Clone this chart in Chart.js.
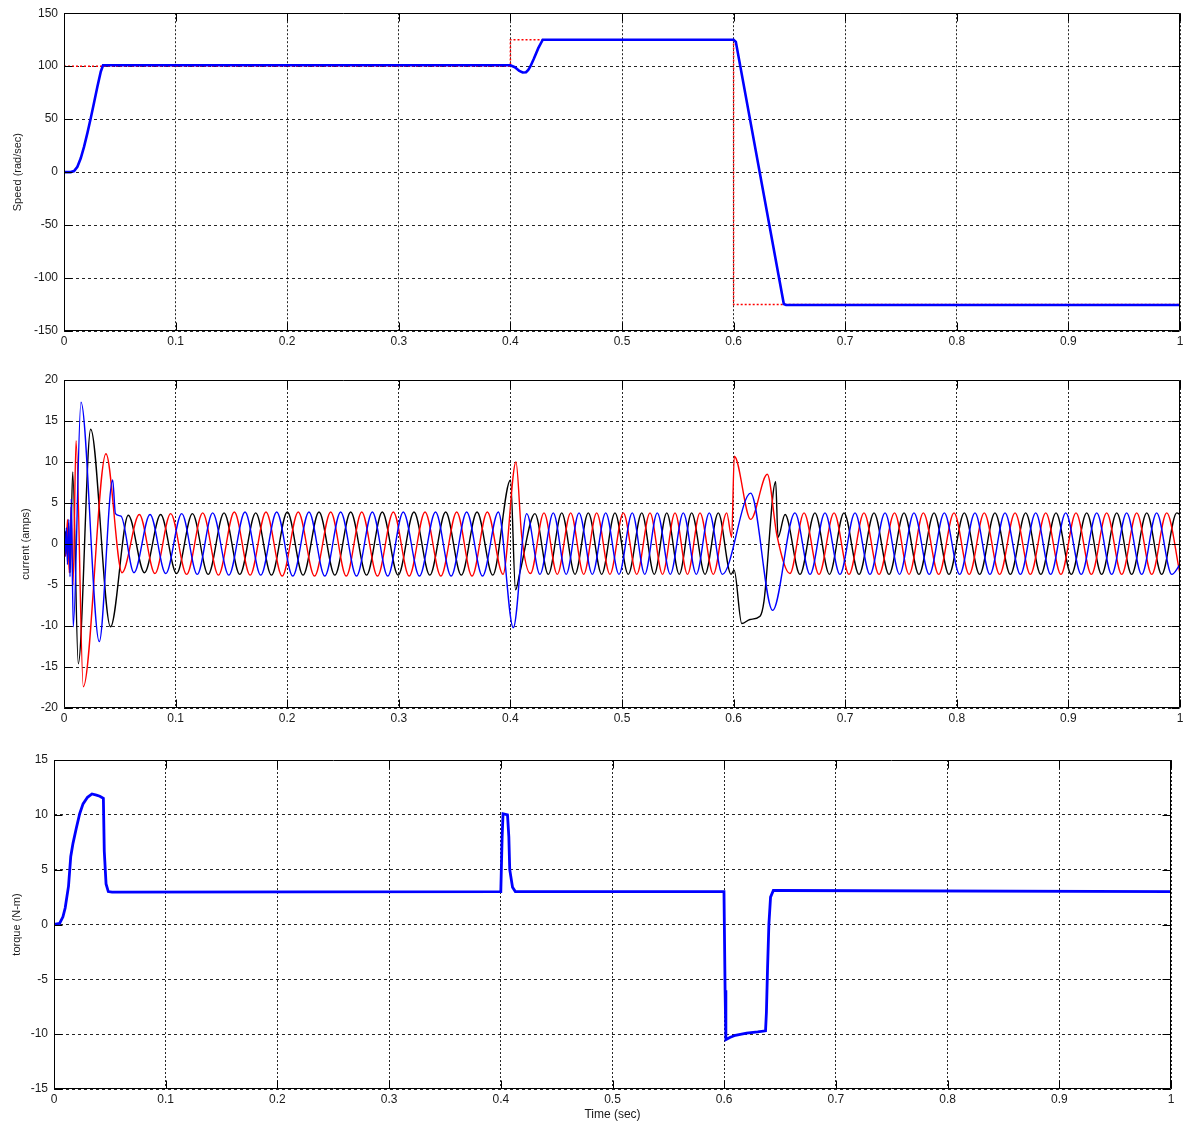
<!DOCTYPE html>
<html>
<head>
<meta charset="utf-8">
<script src="https://cdn.jsdelivr.net/npm/chart.js@4.4.1/dist/chart.umd.min.js"></script>
<style>
    html, body { margin: 0; padding: 0; background: #fff; }
    canvas { position: absolute; left: 0; }
</style>
</head>
<body>
<canvas id="speedChart" width="1190" height="360" style="top:0px"></canvas>
<canvas id="currentChart" width="1190" height="380" style="top:360px"></canvas>
<canvas id="torqueChart" width="1190" height="383" style="top:740px"></canvas>
<script>
// speed plot: reference (red dotted) and measured speed (blue)
const refT = [0, 0.4, 0.4, 0.6, 0.6, 1.0];
const refW = [100, 100, 125, 125, -125, -125];

const speedT = [0, 0.006, 0.009, 0.012, 0.015, 0.018, 0.021, 0.024, 0.027, 0.030,
    0.033, 0.035, 0.400, 0.404, 0.408, 0.411, 0.414, 0.416, 0.418, 0.421,
    0.425, 0.429, 0.600, 0.602, 0.645, 0.647, 1.0];
const speedW = [0, 0, 1, 5, 13, 24, 37, 51, 66, 81,
    95, 100.8, 100.8, 99, 95.5, 94, 94.3, 96.5, 100, 107,
    117, 125, 125, 123, -124.5, -125.4, -125.4];

// stator currents, peaks and troughs (phase a black, b red, c blue)
const blackT = [0, 0.0013, 0.0027, 0.0040, 0.0054, 0.0078, 0.0128, 0.0239, 0.0417, 0.0576,
    0.0721, 0.0866, 0.1009, 0.1151, 0.1292, 0.1434, 0.1575, 0.1718, 0.1859, 0.2001,
    0.2142, 0.2285, 0.2427, 0.2569, 0.2711, 0.2852, 0.2994, 0.3136, 0.3278, 0.3420,
    0.3560, 0.3701, 0.3842, 0.4001, 0.4046, 0.4086, 0.4220, 0.4340, 0.4460, 0.4579,
    0.4698, 0.4818, 0.4937, 0.5056, 0.5177, 0.5289, 0.5401, 0.5513, 0.5624, 0.5744,
    0.5863, 0.5977, 0.6005, 0.6073, 0.6147, 0.6237, 0.6272, 0.6377, 0.6398, 0.6461,
    0.6595, 0.6729, 0.6859, 0.6989, 0.7124, 0.7258, 0.7393, 0.7527, 0.7661, 0.7796,
    0.7930, 0.8067, 0.8205, 0.8342, 0.8480, 0.8617, 0.8753, 0.8889, 0.9026, 0.9164,
    0.9298, 0.9433, 0.9567, 0.9702, 0.9836, 0.9971, 1.0];
const blackI = [0, 1.5, -1.2, 2.5, -3.5, 8.8, -14.6, 14.0, -10.1, 3.5,
    -3.5, 3.6, -3.6, 3.7, -3.7, 3.8, -3.7, 3.8, -3.8, 3.9,
    -3.8, 3.9, -3.8, 3.9, -3.8, 3.9, -3.8, 3.9, -3.8, 3.9,
    -3.8, 3.9, -3.8, 7.8, -5.6, -3.4, 3.7, -3.7, 3.8, -3.7,
    3.8, -3.7, 3.8, -3.7, 3.8, -3.7, 3.8, -3.7, 3.8, -3.7,
    3.8, -3.7, -3.2, -9.7, -9.2, -8.8, -7.0, 7.6, 0.8, 3.6,
    -3.7, 3.8, -3.7, 3.8, -3.7, 3.8, -3.7, 3.8, -3.7, 3.8,
    -3.7, 3.8, -3.7, 3.8, -3.7, 3.8, -3.7, 3.8, -3.7, 3.8,
    -3.7, 3.8, -3.7, 3.8, -3.7, 3.8, 3.6];

const redT = [0, 0.0016, 0.0031, 0.0047, 0.0063, 0.0081, 0.0108, 0.0173, 0.0376, 0.0520,
    0.0675, 0.0815, 0.0956, 0.1099, 0.1243, 0.1384, 0.1526, 0.1668, 0.1810, 0.1955,
    0.2099, 0.2245, 0.2390, 0.2529, 0.2668, 0.2809, 0.2951, 0.3093, 0.3235, 0.3377,
    0.3519, 0.3656, 0.3793, 0.3934, 0.4050, 0.4101, 0.4180, 0.4301, 0.4420, 0.4540,
    0.4657, 0.4773, 0.4892, 0.5012, 0.5132, 0.5251, 0.5363, 0.5475, 0.5587, 0.5699,
    0.5818, 0.5938, 0.5983, 0.6006, 0.6153, 0.6302, 0.6389, 0.6505, 0.6631, 0.6765,
    0.6900, 0.7034, 0.7168, 0.7303, 0.7442, 0.7572, 0.7700, 0.7838, 0.7975, 0.8111,
    0.8246, 0.8384, 0.8522, 0.8659, 0.8797, 0.8933, 0.9068, 0.9206, 0.9343, 0.9478,
    0.9612, 0.9747, 0.9881, 1.0];
const redI = [0, -1.5, 3, -3.5, 4.5, -5, 12.6, -17.4, 11.0, -3.5,
    3.6, -3.6, 3.7, -3.7, 3.8, -3.8, 3.9, -3.8, 3.9, -3.9,
    3.9, -3.9, 3.9, -3.9, 3.9, -3.9, 3.9, -3.9, 3.9, -3.9,
    3.9, -3.9, 3.9, -3.7, 10.0, 1.0, -3.6, 3.8, -3.7, 3.8,
    -3.7, 3.8, -3.7, 3.8, -3.7, 3.8, -3.7, 3.8, -3.7, 3.8,
    -3.7, 3.8, 0.8, 10.7, 3.0, 8.5, 1.0, -3.6, 3.8, -3.7,
    3.8, -3.7, 3.8, -3.7, 3.8, -3.7, 3.8, -3.7, 3.8, -3.7,
    3.8, -3.7, 3.8, -3.7, 3.8, -3.7, 3.8, -3.7, 3.8, -3.7,
    3.8, -3.7, 3.8, -3.6];

const blueT = [0, 0.0009, 0.0021, 0.0031, 0.0043, 0.0054, 0.0065, 0.0083, 0.0152, 0.0316,
    0.0436, 0.0461, 0.0511, 0.0627, 0.0771, 0.0912, 0.1055, 0.1194, 0.1332, 0.1477,
    0.1622, 0.1763, 0.1906, 0.2050, 0.2195, 0.2337, 0.2479, 0.2621, 0.2763, 0.2901,
    0.3040, 0.3185, 0.3329, 0.3469, 0.3608, 0.3750, 0.3892, 0.4026, 0.4146, 0.4265,
    0.4384, 0.4500, 0.4615, 0.4734, 0.4854, 0.4973, 0.5092, 0.5204, 0.5316, 0.5433,
    0.5549, 0.5666, 0.5782, 0.5899, 0.6153, 0.6350, 0.6550, 0.6685, 0.6819, 0.6953,
    0.7088, 0.7222, 0.7357, 0.7487, 0.7616, 0.7753, 0.7888, 0.8026, 0.8163, 0.8297,
    0.8432, 0.8570, 0.8707, 0.8841, 0.8976, 0.9115, 0.9254, 0.9388, 0.9522, 0.9657,
    0.9791, 0.9926, 1.0];
const blueI = [0, -1.5, 2, -2.5, 3, -4, 5.5, -10.1, 17.3, -11.9,
    7.8, 3.7, 3.4, -3.5, 3.6, -3.6, 3.7, -3.7, 3.8, -3.8,
    3.9, -3.8, 3.9, -3.9, 3.9, -3.9, 3.9, -3.9, 3.9, -3.9,
    3.9, -3.9, 3.9, -3.9, 3.9, -3.9, 3.9, -10.2, 3.7, -3.7,
    3.8, -3.7, 3.8, -3.7, 3.8, -3.7, 3.8, -3.7, 3.8, -3.7,
    3.8, -3.7, 3.8, -3.7, 6.2, -8.1, 3.8, -3.7, 3.8, -3.7,
    3.8, -3.7, 3.8, -3.7, 3.8, -3.7, 3.8, -3.7, 3.8, -3.7,
    3.8, -3.7, 3.8, -3.7, 3.8, -3.7, 3.8, -3.7, 3.8, -3.7,
    3.8, -3.7, -2.5];

// electromagnetic torque
const torqueT = [0, 0.005, 0.008, 0.010, 0.013, 0.015, 0.017, 0.020, 0.023, 0.026,
    0.030, 0.034, 0.038, 0.041, 0.0442, 0.0450, 0.0466, 0.0486, 0.052, 0.40,
    0.4012, 0.402, 0.406, 0.4072, 0.408, 0.4105, 0.413, 0.5998, 0.6008, 0.6015,
    0.605, 0.610, 0.620, 0.630, 0.637, 0.6378, 0.6388, 0.6400, 0.6415, 0.644,
    0.650, 1.0];
const torqueN = [0, 0.1, 0.7, 1.5, 3.5, 6.2, 7.4, 8.8, 10.1, 11.0,
    11.6, 11.9, 11.8, 11.7, 11.5, 6.7, 3.7, 3.0, 2.95, 3.0,
    8, 10.1, 10.0, 8, 5, 3.4, 3.0, 3.0, -6, -10.5,
    -10.3, -10.1, -9.9, -9.8, -9.7, -8, -4, 0, 2.5, 3.1,
    3.1, 3.0];

const timeTicks = [0, 0.1, 0.2, 0.3, 0.4, 0.5, 0.6, 0.7, 0.8, 0.9, 1];

const FONT = "'Liberation Sans', Arial, sans-serif";
const pts = (ts, vs) => ts.map((t, i) => ({x: t, y: vs[i]}));

// matlab style box with inward ticks
const framePlugin = {
    id: 'frame',
    afterDatasetsDraw(chart) {
        const {ctx, chartArea: a, scales: {x, y}} = chart;
        const L = Math.round(a.left) + 0.5, R = Math.round(a.right) - 0.5;
        const T = Math.round(a.top) + 0.5, B = Math.round(a.bottom) - 0.5;
        ctx.save();
        ctx.setLineDash([]);
        ctx.strokeStyle = '#000';
        ctx.lineWidth = 1;
        ctx.beginPath();
        ctx.rect(L, T, R - L, B - T);
        x.ticks.forEach(t => {
            const p = Math.round(x.getPixelForValue(t.value)) + 0.5;
            ctx.moveTo(p, B); ctx.lineTo(p, B - 8);
            ctx.moveTo(p, T); ctx.lineTo(p, T + 8);
        });
        y.ticks.forEach(t => {
            const p = Math.round(y.getPixelForValue(t.value)) + 0.5;
            ctx.moveTo(L, p); ctx.lineTo(L + 8, p);
            ctx.moveTo(R, p); ctx.lineTo(R - 8, p);
        });
        ctx.stroke();
        ctx.restore();
    }
};

function makePlot(id, datasets, o) {
    return new Chart(document.getElementById(id), {
        type: 'line',
        data: {datasets: datasets},
        plugins: [framePlugin],
        options: {
            responsive: false,
            animation: false,
            devicePixelRatio: 1,
            layout: {padding: {top: o.padTop, right: o.padRight, left: 0, bottom: 0}},
            elements: {point: {radius: 0}},
            plugins: {legend: {display: false}, tooltip: {enabled: false}},
            scales: {
                x: {
                    type: 'linear',
                    min: 0,
                    max: 1,
                    afterFit: s => { s.height = o.xHeight; },
                    afterBuildTicks: s => { s.ticks = timeTicks.map(v => ({value: v})); },
                    ticks: {
                        autoSkip: false,
                        maxRotation: 0,
                        padding: 3,
                        color: '#1a1a1a',
                        font: {family: FONT, size: 12},
                        callback: v => String(Math.round(v * 10) / 10)
                    },
                    grid: {color: 'rgba(0,0,0,0.85)', lineWidth: 1, drawTicks: false},
                    border: {display: false, dash: [2, 2]},
                    title: {
                        display: !!o.xTitle,
                        text: o.xTitle || '',
                        color: '#1a1a1a',
                        font: {family: FONT, size: 12, lineHeight: 1.2},
                        padding: {top: 0, bottom: 1}
                    }
                },
                y: {
                    min: o.yMin,
                    max: o.yMax,
                    afterFit: s => { s.width = o.yWidth; },
                    ticks: {
                        stepSize: o.yStep,
                        padding: 6,
                        color: '#1a1a1a',
                        font: {family: FONT, size: 12}
                    },
                    grid: {color: 'rgba(0,0,0,0.85)', lineWidth: 1, drawTicks: false},
                    border: {display: false, dash: [3, 3]},
                    title: {
                        display: true,
                        text: o.yTitle,
                        color: '#1a1a1a',
                        font: {family: FONT, size: 11, lineHeight: 1.2},
                        padding: {top: o.yTitlePad, bottom: 0}
                    }
                }
            }
        }
    });
}

makePlot('speedChart', [
    {data: pts(speedT, speedW), borderColor: 'rgb(0,0,255)', borderWidth: 2.6, tension: 0},
    {data: pts(refT, refW), borderColor: 'rgb(255,0,0)', borderWidth: 1.5, borderDash: [2, 2], tension: 0}
], {yMin: -150, yMax: 150, yStep: 50, yTitle: 'Speed (rad/sec)', yTitlePad: 11,
    yWidth: 64, xHeight: 29, padTop: 11, padRight: 10});

makePlot('currentChart', [
    {data: pts(blueT, blueI), borderColor: 'rgb(0,0,255)', borderWidth: 1.4, cubicInterpolationMode: 'monotone'},
    {data: pts(redT, redI), borderColor: 'rgb(255,0,0)', borderWidth: 1.4, cubicInterpolationMode: 'monotone'},
    {data: pts(blackT, blackI), borderColor: 'rgb(0,0,0)', borderWidth: 1.4, cubicInterpolationMode: 'monotone'}
], {yMin: -20, yMax: 20, yStep: 5, yTitle: 'current (amps)', yTitlePad: 19,
    yWidth: 64, xHeight: 32, padTop: 20, padRight: 10});

makePlot('torqueChart', [
    {data: pts(torqueT, torqueN), borderColor: 'rgb(0,0,255)', borderWidth: 2.8, tension: 0}
], {yMin: -15, yMax: 15, yStep: 5, yTitle: 'torque (N-m)', yTitlePad: 10,
    yWidth: 54, xHeight: 34, padTop: 20, padRight: 19, xTitle: 'Time (sec)'});
</script>
</body>
</html>
